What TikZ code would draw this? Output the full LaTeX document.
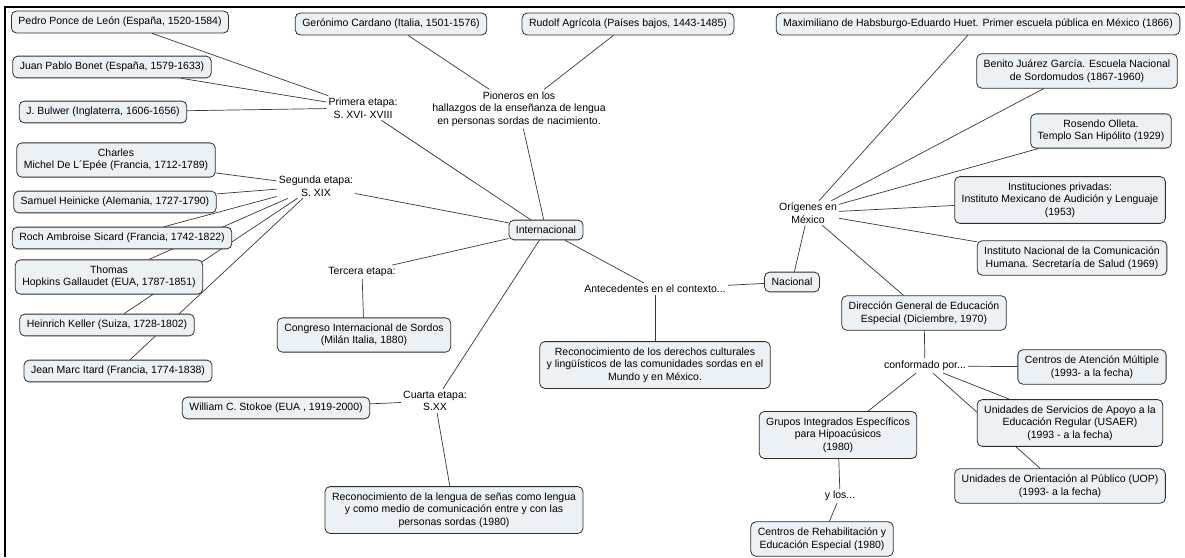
\documentclass[tikz,border=0pt]{standalone}
\usepackage{fontspec}
\setmainfont{Liberation Sans}
\usetikzlibrary{backgrounds}

\definecolor{boxfill}{RGB}{236,241,246}
\definecolor{boxline}{RGB}{45,45,45}
\definecolor{linkgray}{RGB}{55,55,55}

\tikzset{
  concept/.style={draw=boxline, line width=0.8pt, fill=boxfill, rounded corners=5pt,
    align=center, inner xsep=7pt, inner ysep=6pt, font=\fontsize{10.5}{12.5}\selectfont},
  phrase/.style={align=center, inner sep=2pt, font=\fontsize{10.5}{12.5}\selectfont},
  link/.style={draw=linkgray, line width=0.7pt}
}

\begin{document}
\begin{tikzpicture}[x=1pt, y=-1pt]

    % Fix the page to the size of the scan
    \useasboundingbox (0,0) rectangle (1185,557);

    % Frame of the scan (top and left edges)
    \draw[line width=2.2pt] (5,557) -- (5,7) -- (1185,7);

    % Central concepts
    \node[concept] (inter) at (546,230) {Internacional};
    \node[concept] (nacional) at (792,282) {Nacional};
    \node[phrase] (antec) at (655,289) {Antecedentes en el contexto...};
    \node[concept] (derechos) at (655,365) {Reconocimiento de los derechos culturales\\y lingüísticos de las comunidades sordas en el\\Mundo y en México.};

    % Pioneers
    \node[phrase] (pioneros) at (519,109) {Pioneros en los\\hallazgos de la enseñanza de lengua\\en personas sordas de nacimiento.};
    \node[concept] (cardano) at (391,24) {Gerónimo Cardano (Italia, 1501-1576)};
    \node[concept] (agricola) at (628,24) {Rudolf Agrícola (Países bajos, 1443-1485)};

    % First stage
    \node[phrase] (primera) at (363,108) {Primera etapa:\\S. XVI- XVIII};
    \node[concept] (ponce) at (120,22) {Pedro Ponce de León (España, 1520-1584)};
    \node[concept] (bonet) at (112,67) {Juan Pablo Bonet (España, 1579-1633)};
    \node[concept] (bulwer) at (103,112) {J. Bulwer (Inglaterra, 1606-1656)};

    % Second stage
    \node[phrase] (segunda) at (316,186) {Segunda etapa:\\S. XIX};
    \node[concept] (epee) at (116,160) {Charles\\Michel De L´Epée (Francia, 1712-1789)};
    \node[concept] (heinicke) at (115,202) {Samuel Heinicke (Alemania, 1727-1790)};
    \node[concept] (sicard) at (122,238) {Roch Ambroise Sicard (Francia, 1742-1822)};
    \node[concept] (gallaudet) at (109,277) {Thomas\\Hopkins Gallaudet (EUA, 1787-1851)};
    \node[concept] (keller) at (107,325) {Heinrich Keller (Suiza, 1728-1802)};
    \node[concept] (itard) at (118,371) {Jean Marc Itard (Francia, 1774-1838)};

    % Third stage
    \node[phrase] (tercera) at (362,272) {Tercera etapa:};
    \node[concept] (congreso) at (364,335) {Congreso Internacional de Sordos\\(Milán Italia, 1880)};

    % Fourth stage
    \node[phrase] (cuarta) at (435,401) {Cuarta etapa:\\S.XX};
    \node[concept] (stokoe) at (276,408) {William C. Stokoe (EUA , 1919-2000)};
    \node[concept] (lengua) at (454,510) {Reconocimiento de la lengua de señas como lengua\\y como medio de comunicación entre y con las\\personas sordas (1980)};

    % Origins in Mexico
    \node[phrase] (origenes) at (808,213) {Orígenes en\\México};
    \node[concept] (huet) at (978,24) {Maximiliano de Habsburgo-Eduardo Huet. Primer escuela pública en México (1866)};
    \node[concept] (juarez) at (1077,71) {Benito Juárez García. Escuela Nacional\\de Sordomudos (1867-1960)};
    \node[concept] (olleta) at (1101,131) {Rosendo Olleta.\\Templo San Hipólito (1929)};
    \node[concept] (privadas) at (1060,200) {Instituciones privadas:\\Instituto Mexicano de Audición y Lenguaje\\(1953)};
    \node[concept] (inch) at (1072,258) {Instituto Nacional de la Comunicación\\Humana. Secretaría de Salud (1969)};
    \node[concept] (dgee) at (924,313) {Dirección General de Educación\\Especial (Diciembre, 1970)};

    % Services of the DGEE
    \node[phrase] (conformado) at (925,366) {conformado por...};
    \node[concept] (cam) at (1092,367) {Centros de Atención Múltiple\\(1993- a la fecha)};
    \node[concept] (usaer) at (1070,423) {Unidades de Servicios de Apoyo a la\\Educación Regular (USAER)\\(1993 - a la fecha)};
    \node[concept] (uop) at (1060,486) {Unidades de Orientación al Público (UOP)\\(1993- a la fecha)};
    \node[concept] (grupos) at (838,435) {Grupos Integrados Específicos\\para Hipoacúsicos\\(1980)};
    \node[phrase] (ylos) at (840,496) {y los...};
    \node[concept] (rehab) at (822,539) {Centros de Rehabilitación y\\Educación Especial (1980)};

    % Connectors go behind the boxes
    \begin{scope}[on background layer]
        \foreach \a in {ponce,bonet,bulwer}
            \draw[link] (\a) -- (primera);
        \foreach \a in {epee,heinicke,sicard,gallaudet,keller,itard}
            \draw[link] (\a) -- (segunda);
        \foreach \a in {cardano,agricola}
            \draw[link] (\a) -- (pioneros);
        \foreach \a in {primera,segunda,pioneros,tercera,cuarta,antec}
            \draw[link] (inter) -- (\a);
        \draw[link] (tercera) -- (congreso);
        \draw[link] (cuarta) -- (stokoe);
        \draw[link] (cuarta) -- (lengua);
        \draw[link] (antec) -- (nacional);
        \draw[link] (antec) -- (derechos);
        \draw[link] (nacional) -- (origenes);
        \foreach \a in {huet,juarez,olleta,privadas,inch,dgee}
            \draw[link] (origenes) -- (\a);
        \draw[link] (dgee) -- (conformado);
        \foreach \a in {cam,usaer,uop,grupos}
            \draw[link] (conformado) -- (\a);
        \draw[link] (grupos) -- (ylos);
        \draw[link] (ylos) -- (rehab);
    \end{scope}

\end{tikzpicture}
\end{document}
